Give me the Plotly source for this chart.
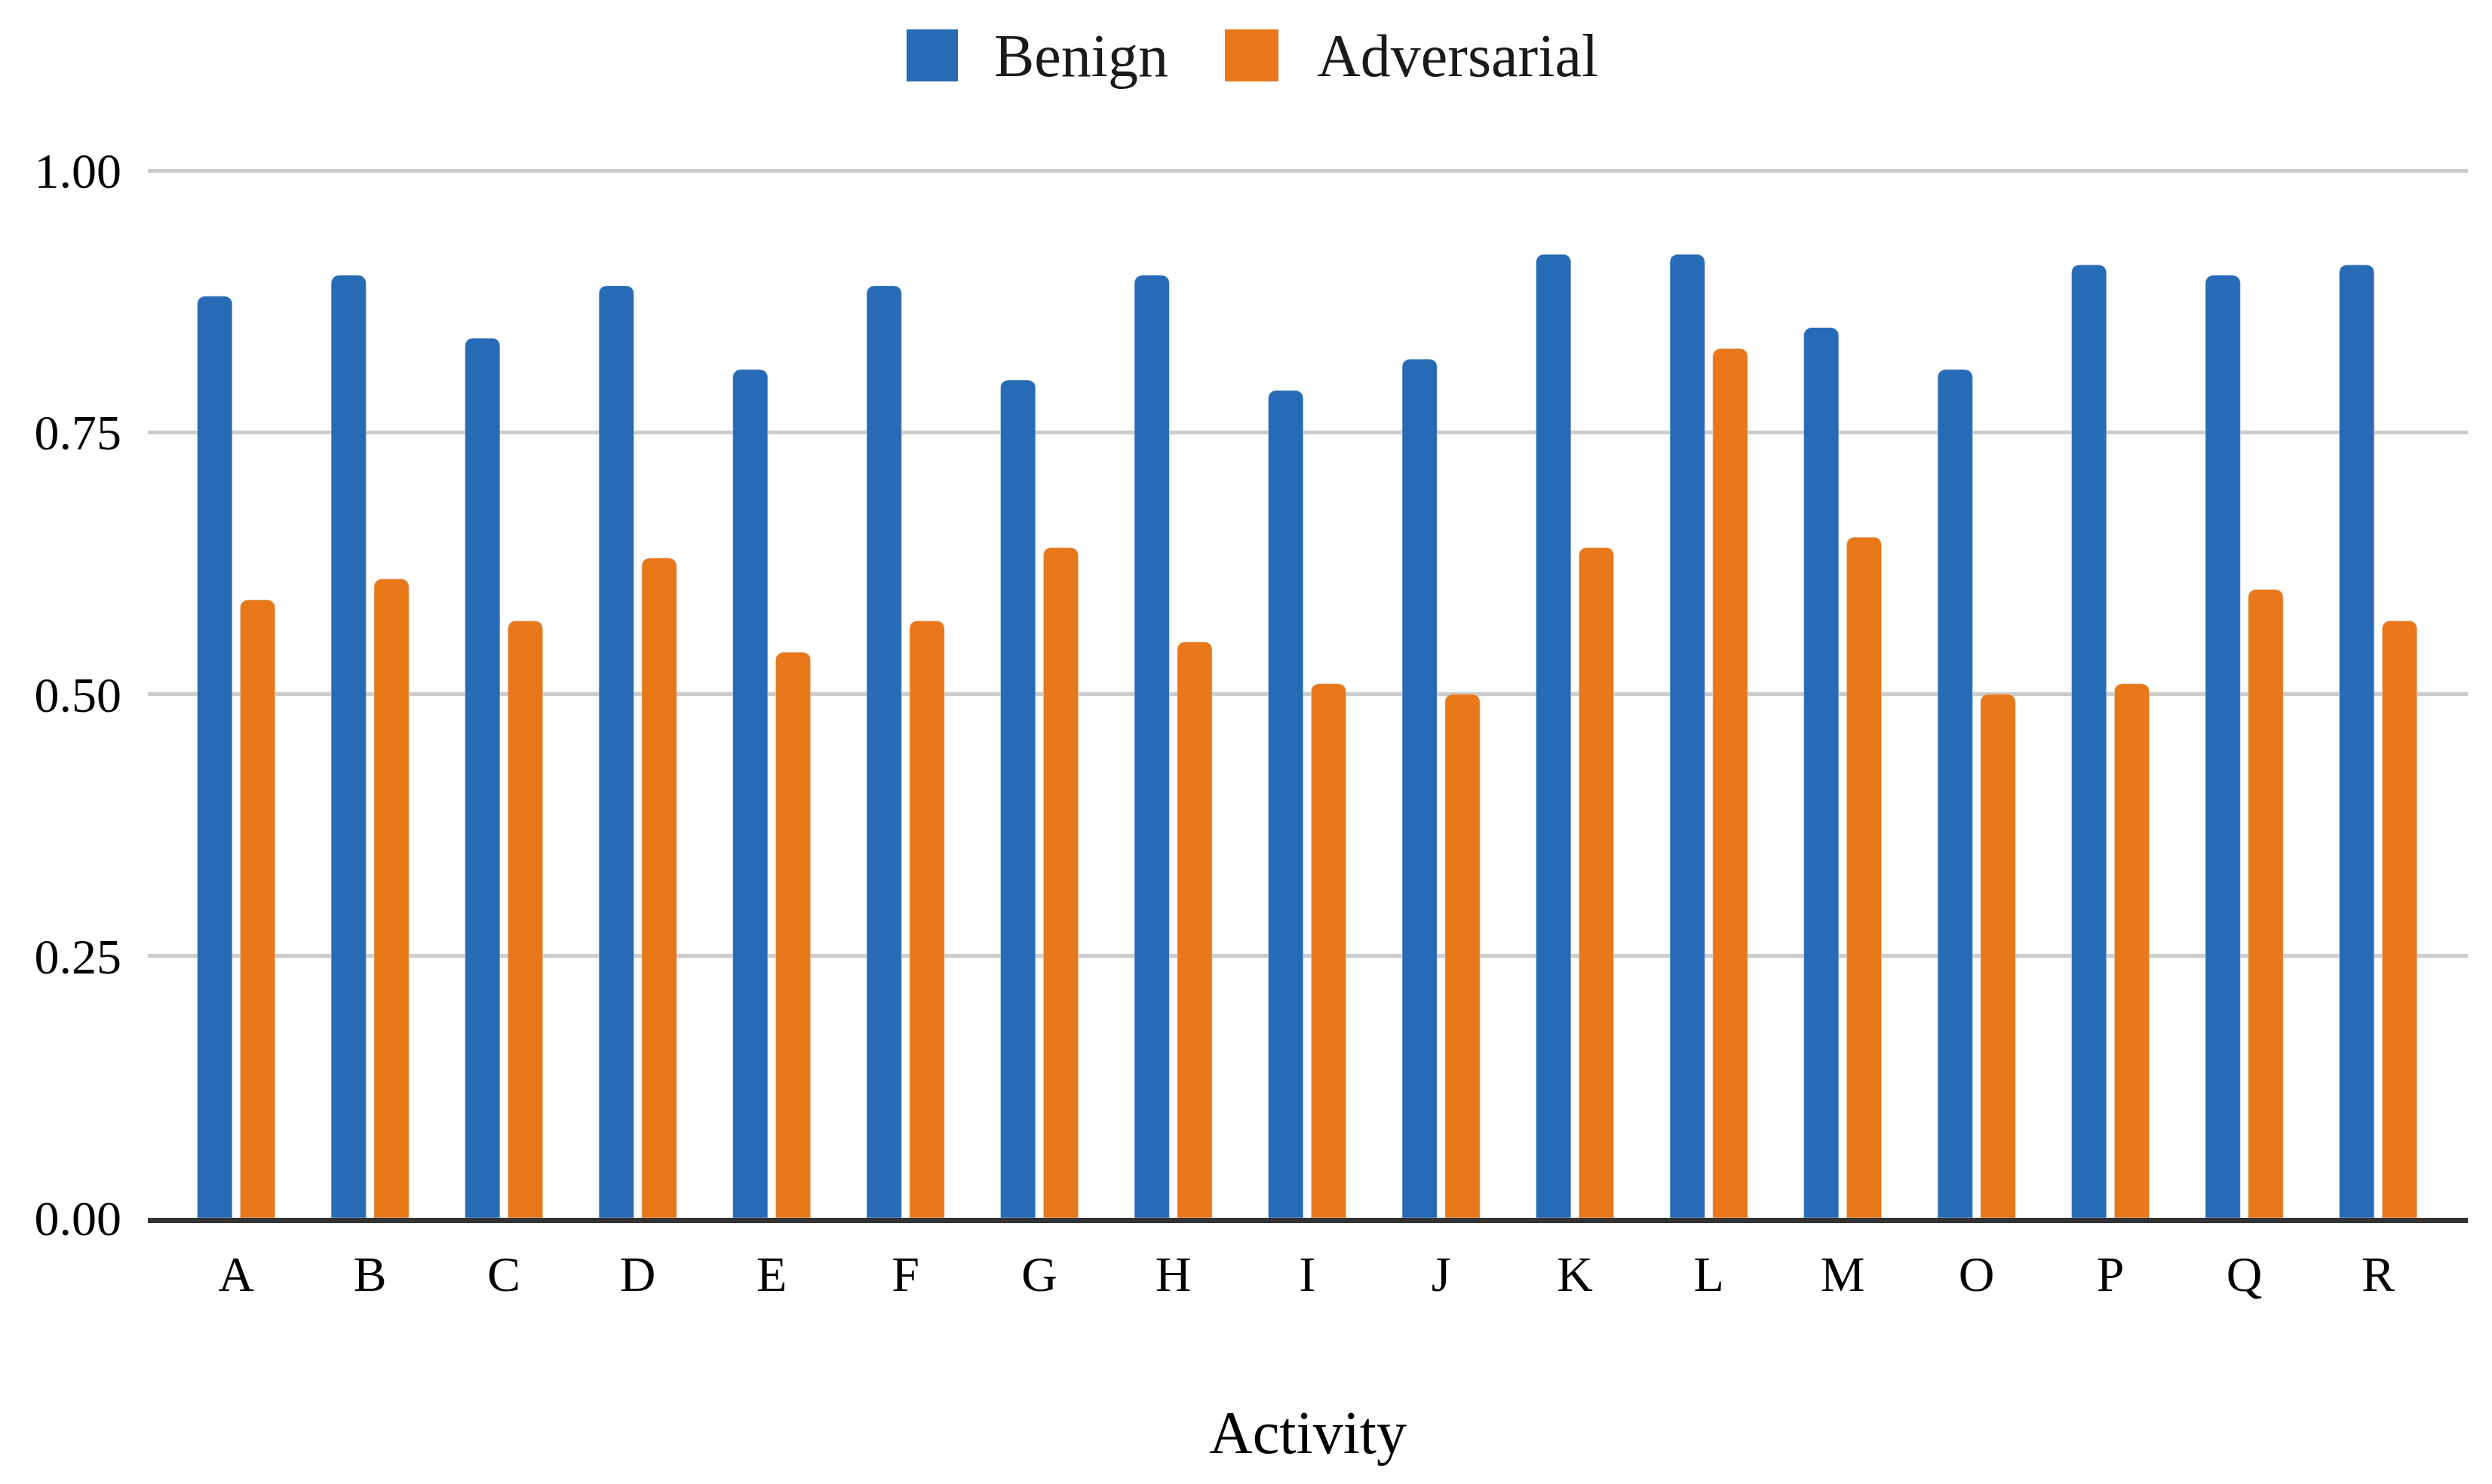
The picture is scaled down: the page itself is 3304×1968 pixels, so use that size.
import plotly.graph_objects as go

categories = ["A", "B", "C", "D", "E", "F", "G", "H", "I", "J", "K", "L", "M", "O", "P", "Q", "R"]
benign = [0.88, 0.90, 0.84, 0.89, 0.81, 0.89, 0.80, 0.90, 0.79, 0.82, 0.92, 0.92, 0.85, 0.81, 0.91, 0.90, 0.91]
adversarial = [0.59, 0.61, 0.57, 0.63, 0.54, 0.57, 0.64, 0.55, 0.51, 0.50, 0.64, 0.83, 0.65, 0.50, 0.51, 0.60, 0.57]
series_names = ["Benign", "Adversarial"]
y_ticks = [0.0, 0.25, 0.5, 0.75, 1.0]
y_tick_labels = ["0.00", "0.25", "0.50", "0.75", "1.00"]
x_title = "Activity"

W, H = 3304, 1968
L, R, T, B = 188, 3264, 214, 1607
BLUE = "#276AB5"
ORANGE = "#E8781A"
FONT = "Liberation Serif"

fig = go.Figure()
fig.add_trace(go.Bar(x=categories, y=benign, name=series_names[0], marker_color=BLUE))
fig.add_trace(go.Bar(x=categories, y=adversarial, name=series_names[1], marker_color=ORANGE))

def px(x):
    return (x - L) / (R - L)

def py(y):
    return (B - y) / (B - T)

# manual legend
legend_items = [(series_names[0], BLUE, 1194, 1262, 1308), (series_names[1], ORANGE, 1616, 1687, 1736)]
for name, col, x0, x1, tx in legend_items:
    fig.add_shape(type="rect", xref="paper", yref="paper",
                  x0=px(x0), x1=px(x1), y0=py(100), y1=py(31),
                  fillcolor=col, line=dict(width=0), layer="above")
    fig.add_annotation(xref="paper", yref="paper", x=px(tx), y=py(66),
                       xanchor="left", yanchor="middle", text=name, showarrow=False,
                       font=dict(family=FONT, size=80, color="#1a1a1a"))

fig.update_layout(
    width=W, height=H,
    margin=dict(l=L, r=W - R, t=T, b=H - B, pad=0),
    paper_bgcolor="white", plot_bgcolor="white",
    showlegend=False,
    barmode="group", bargap=0.36, bargroupgap=0.185,
    barcornerradius=10,
    font=dict(family=FONT, color="black", size=66),
)
fig.update_xaxes(
    range=[-0.66, len(categories) - 1 + 0.67],
    showgrid=False, showline=True, linecolor="#333333", linewidth=7,
    ticks="", tickfont=dict(family=FONT, size=66, color="black"),
    ticklabelstandoff=11,
    title=dict(text=x_title, font=dict(family=FONT, size=80, color="black"), standoff=148),
)
fig.update_yaxes(
    range=[0, 1.003], tickvals=y_ticks, ticktext=y_tick_labels,
    showgrid=True, gridcolor="#CCCCCC", gridwidth=5,
    zeroline=False, showline=False, ticks="",
    tickfont=dict(family=FONT, size=66, color="black"),
    ticklabelstandoff=34,
)
fig.write_html("out.html")
